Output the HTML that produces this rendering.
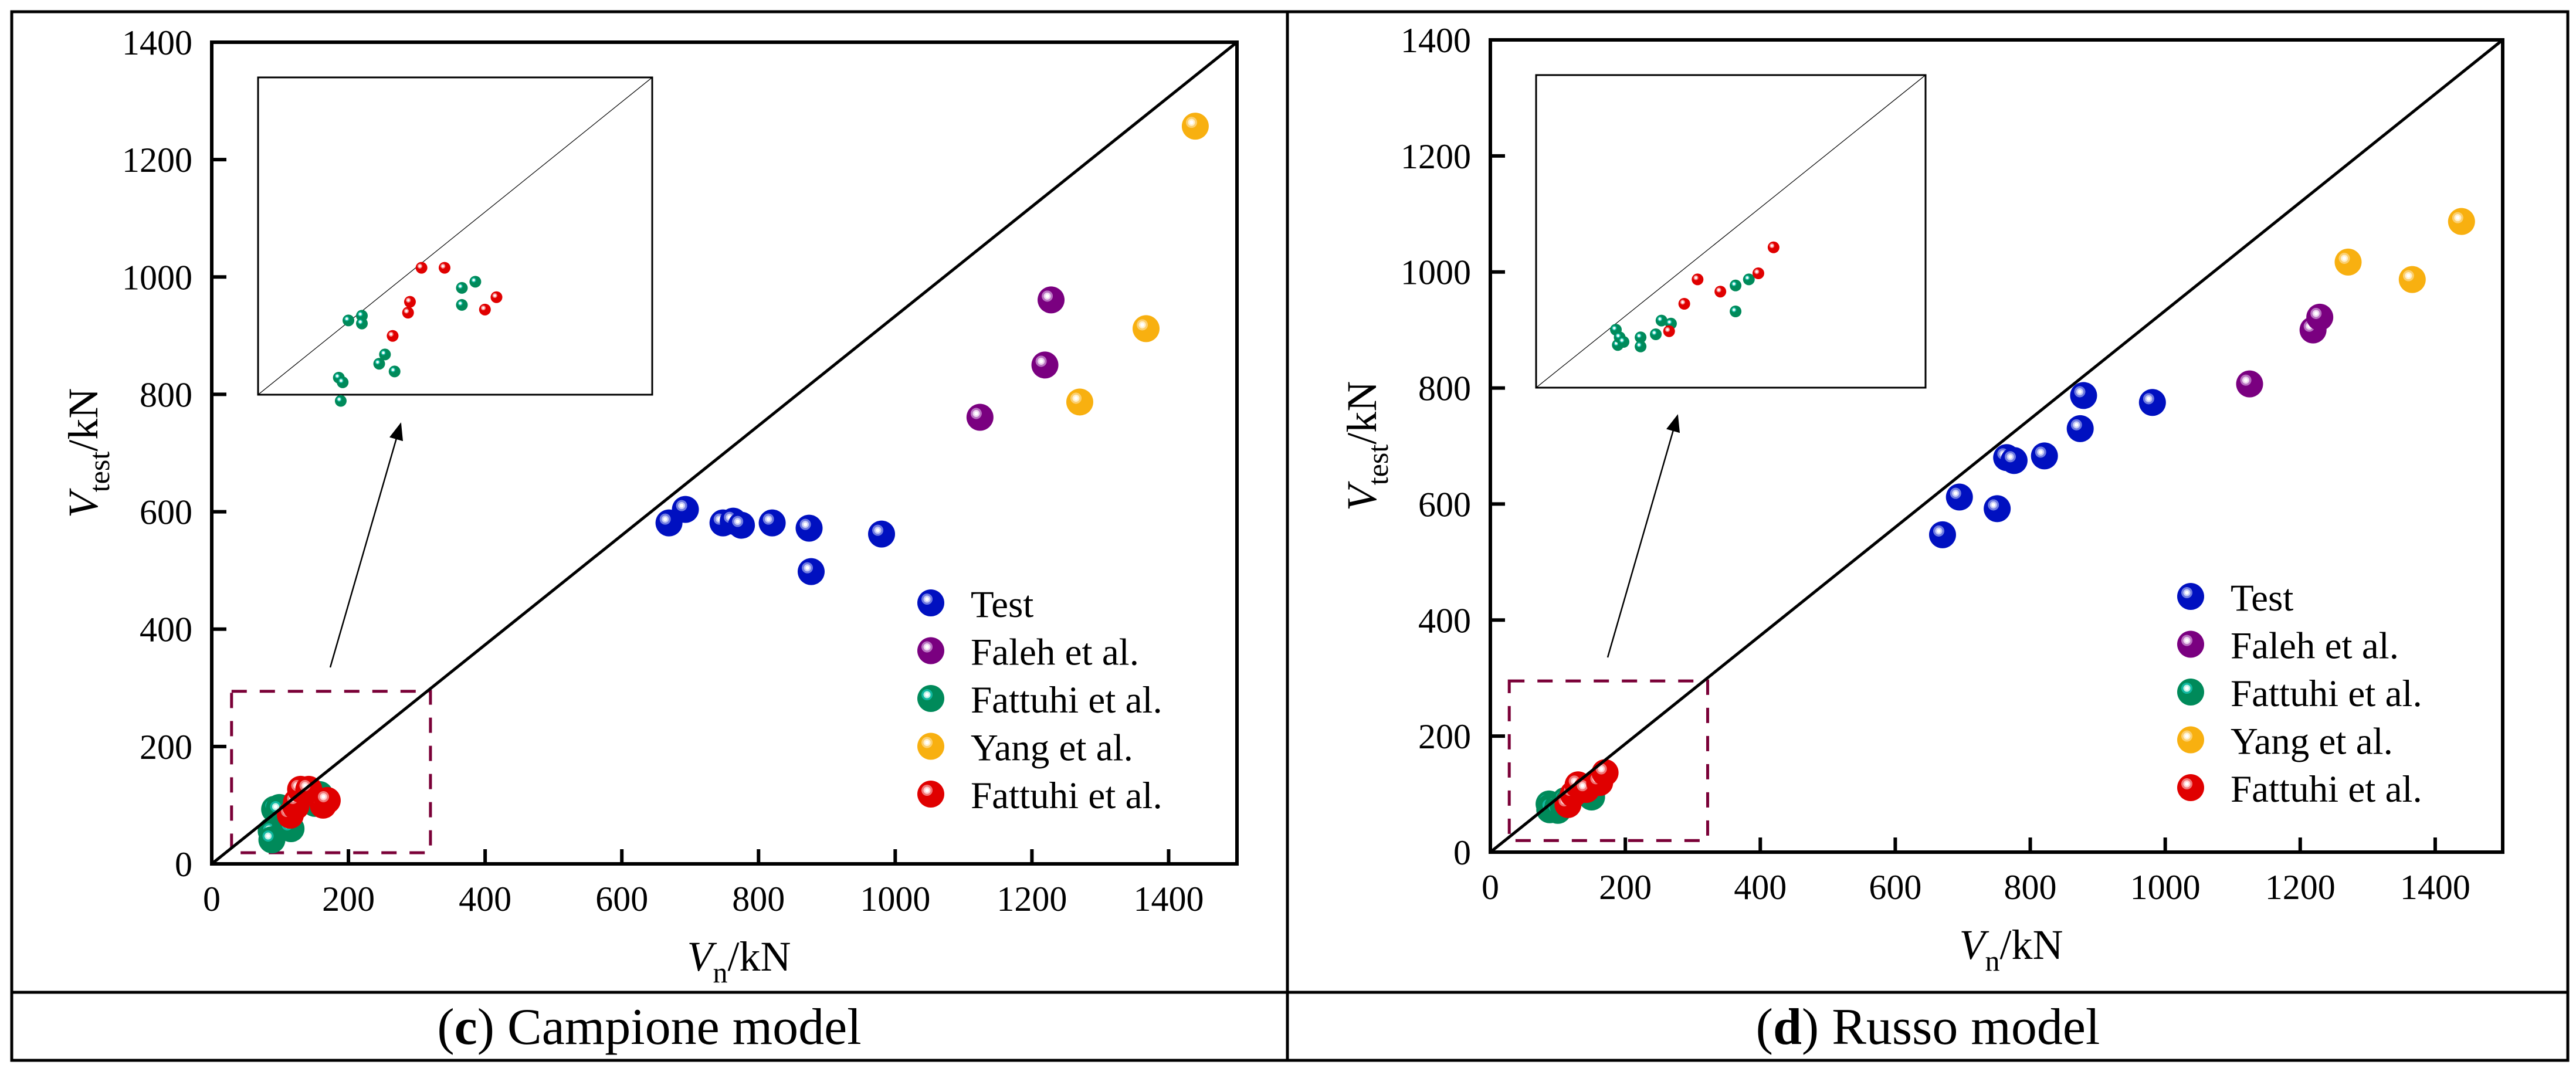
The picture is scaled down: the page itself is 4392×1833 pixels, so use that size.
<!DOCTYPE html>
<html><head><meta charset="utf-8"><style>
html,body{margin:0;padding:0;background:#fff;}
svg, svg text, svg tspan{font-family:"Times New Roman","Liberation Serif","DejaVu Serif","Noto Serif CJK SC",serif !important;}
</style></head><body>
<svg id="fig" width="4392" height="1828" viewBox="0 0 4392 1828" xmlns="http://www.w3.org/2000/svg">
<defs id="defs"></defs>
<rect x="0" y="0" width="4392" height="1828" fill="#fff"/>
<g fill="none" stroke="#000" stroke-width="5">
<rect x="20" y="20" width="4358" height="1788"/>
<line x1="2195" y1="20" x2="2195" y2="1808"/>
<line x1="20" y1="1692" x2="4378" y2="1692"/>
</g>
<text x="1107" y="1780" font-size="88" text-anchor="middle">(<tspan font-weight="bold">c</tspan>) Campione model</text>
<text x="3287" y="1780" font-size="88" text-anchor="middle">(<tspan font-weight="bold">d</tspan>) Russo model</text>
</svg>
<script>
// ---- data ----
const xTicks = [0,200,400,600,800,1000,1200,1400];
const yTicks = [0,200,400,600,800,1000,1200,1400];
const legendLabels = ["Test","Faleh et al.","Fattuhi et al.","Yang et al.","Fattuhi et al."];

const campioneTest = [[669,581],[693,604],[748,581],[763,584],[775,577],[820,581],[874,572],[877,498],[980,562]];
const campioneFaleh = [[1124,761],[1219,850],[1228,961]];
const campioneFattuhiG = [[87,56],[89,53],[88,41],[92,93],[99,96],[99,91],[108,65],[111,71],[116,60],[151,114],[151,103],[158,118]];
const campioneYang = [[1270,787],[1367,912],[1439,1257]];
const campioneFattuhiR = [[115,83],[123,98],[124,105],[130,127],[142,127],[163,100],[169,108]];

const russoTest = [[670,547],[695,612],[751,592],[765,680],[776,675],[821,683],[874,730],[879,787],[981,775]];
const russoFaleh = [[1125,807],[1219,900],[1229,922]];
const russoFattuhiG = [[87,83],[88,73],[89,78],[91,75],[100,78],[100,72],[108,80],[111,89],[116,87],[150,112],[150,95],[157,116]];
const russoYang = [[1271,1017],[1366,987],[1439,1087]];
const russoFattuhiR = [[115,82],[123,100],[130,116],[142,108],[162,120],[170,137]];

const campioneZoomBox = [29,19,320,294];
const russoZoomBox = [28,20,322,295];
const insetRange = [45,250];

// ---- drawing ----
const NS="http://www.w3.org/2000/svg";
const svg=document.getElementById('fig');
const defs=document.getElementById('defs');
const colors=[["#0010c0","#6f7be0","#c8ccf5"],["#7a0080","#b872c0","#ecd4ef"],["#008a5a","#10b8a0","#bff0e6"],["#f8b010","#fbcf70","#fff0cc"],["#e00000","#f07878","#ffd0d0"]];
colors.forEach((c,i)=>{
  const g=document.createElementNS(NS,'radialGradient');
  g.setAttribute('id','sph'+i);
  g.setAttribute('cx','0.36');g.setAttribute('cy','0.36');g.setAttribute('r','0.75');
  g.setAttribute('fx','0.36');g.setAttribute('fy','0.36');
  [[0,'#fff'],[0.09,'#fff'],[0.1,c[2]],[0.17,c[2]],[0.18,c[1]],[0.27,c[1]],[0.28,c[0]],[1,c[0]]].forEach(s=>{
    const st=document.createElementNS(NS,'stop');st.setAttribute('offset',s[0]);st.setAttribute('stop-color',s[1]);g.appendChild(st);});
  defs.appendChild(g);
});
const mk=document.createElementNS(NS,'marker');
mk.setAttribute('id','arrowhead');
mk.setAttribute('refX','9');mk.setAttribute('refY','5');mk.setAttribute('orient','auto');mk.setAttribute('markerUnits','userSpaceOnUse');
mk.setAttribute('viewBox','0 0 10 10');mk.setAttribute('markerWidth','30');mk.setAttribute('markerHeight','30');
const mp=document.createElementNS(NS,'path');mp.setAttribute('d','M0,1 L10,5 L0,9 Z');mp.setAttribute('fill','#000');mk.appendChild(mp);defs.appendChild(mk);

function el(tag,attrs,parent){const e=document.createElementNS(NS,tag);for(const k in attrs)e.setAttribute(k,attrs[k]);(parent||svg).appendChild(e);return e;}

function drawPanel(p){
  const g=el('g',{});
  
  
  const sx=v=>p.x0+(v/1500)*(p.x1-p.x0);
  const sy=v=>p.y0-(v/1400)*(p.y0-p.y1);
  const b=p.box;
  const zb=el('rect',{x:sx(b[0]),y:sy(b[3]),width:sx(b[2])-sx(b[0]),height:sy(b[1])-sy(b[3]),fill:'none',stroke:'#7a0037','stroke-width':5,'stroke-dasharray':'26 22'},g);
  
  
  const ig=el('g',{},g);
  
  
  const I=p.inset;
  el('rect',{x:I[0],y:I[1],width:I[2]-I[0],height:I[3]-I[1],fill:'#fff',stroke:'#000','stroke-width':3},ig);
  el('line',{x1:I[0],y1:I[3],x2:I[2],y2:I[1],stroke:'#000','stroke-width':1.2},ig);
  const ix=v=>I[0]+(v-insetRange[0])/(insetRange[1]-insetRange[0])*(I[2]-I[0]);
  const iy=v=>I[3]-(v-insetRange[0])/(insetRange[1]-insetRange[0])*(I[3]-I[1]);
  [[p.series[2],2],[p.series[4],4]].forEach(([arr,ci])=>{
    arr.forEach(d=>{
      const c=el('circle',{cx:ix(d[0]),cy:iy(d[1]),r:10,fill:'url(#sph'+ci+')'},ig);
      
      
    });
  });
  const ar=el('line',{x1:p.arrow[0],y1:p.arrow[1],x2:p.arrow[2],y2:p.arrow[3],stroke:'#000','stroke-width':2.5,'marker-end':'url(#arrowhead)'},g);
  
  
  p.series.forEach((arr,ci)=>{
    const sg=el('g',{},g);
    
    
    arr.forEach(d=>{
      const c=el('circle',{cx:sx(d[0]),cy:sy(d[1]),r:23,fill:'url(#sph'+ci+')'},sg);
      
      
    });
  });
  const dl=el('line',{x1:sx(0),y1:sy(0),x2:sx(1500),y2:sy(1400),stroke:'#000','stroke-width':5},g);
  
  
  const fr=el('rect',{x:p.x0,y:p.y1,width:p.x1-p.x0,height:p.y0-p.y1,fill:'none',stroke:'#000','stroke-width':6},g);
  
  
  xTicks.forEach(v=>{
    el('line',{x1:sx(v),y1:p.y0,x2:sx(v),y2:p.y0-25,stroke:'#000','stroke-width':6},g);
    const t=el('text',{x:sx(v),y:p.y0+80,'font-size':60,'text-anchor':'middle'},g);
    t.textContent=v;
    
    
  });
  yTicks.forEach(v=>{
    el('line',{x1:p.x0,y1:sy(v),x2:p.x0+25,y2:sy(v),stroke:'#000','stroke-width':6},g);
    const t=el('text',{x:p.x0-33,y:sy(v)+21,'font-size':60,'text-anchor':'end'},g);
    t.textContent=v;
    
    
  });
  const xt=el('text',{x:(p.x0+p.x1)/2+25,y:p.y0+182,'font-size':72,'text-anchor':'middle'},g);
  xt.innerHTML='<tspan font-style="italic">V</tspan><tspan font-size="50" dy="20">n</tspan><tspan dy="-20">/kN</tspan>';
  
  
  const yc=(p.y0+p.y1)/2;
  const yt=el('text',{x:0,y:0,'font-size':72,'text-anchor':'middle',transform:`translate(${p.x0-195},${yc}) rotate(-90)`},g);
  yt.innerHTML='<tspan font-style="italic">V</tspan><tspan font-size="50" dy="20">test</tspan><tspan dy="-20">/kN</tspan>';
  
  
  const lg=el('g',{},g);
  
  
  legendLabels.forEach((lab,i)=>{
    const y=p.legY+i*81.5;
    const c=el('circle',{cx:p.legX,cy:y,r:23,fill:'url(#sph'+i+')'},lg);
    
    
    const t=el('text',{x:p.legX+68,y:y+24,'font-size':65},lg);
    t.textContent=lab;
    
    
  });
}

drawPanel({name:'campione-chart',x0:361,x1:2109,y0:1473,y1:72,
  series:[campioneTest,campioneFaleh,campioneFattuhiG,campioneYang,campioneFattuhiR],
  box:campioneZoomBox,inset:[440,132,1112,673],arrow:[563,1138,683,723],legX:1587,legY:1028});
drawPanel({name:'russo-chart',x0:2541,x1:4267,y0:1453,y1:68,
  series:[russoTest,russoFaleh,russoFattuhiG,russoYang,russoFattuhiR],
  box:russoZoomBox,inset:[2619,128,3283,661],arrow:[2741,1121,2860,709],legX:3735,legY:1017});
</script>
</body></html>
